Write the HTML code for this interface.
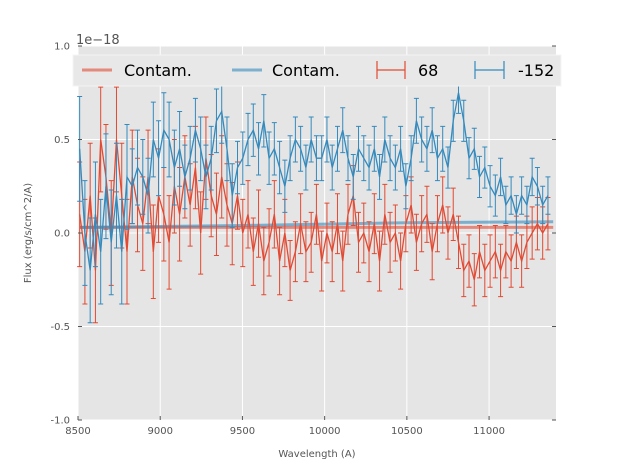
<!DOCTYPE html>
<html><head><meta charset="utf-8"><style>
body{margin:0;background:#fff;font-family:"Liberation Sans","DejaVu Sans",sans-serif}
svg text{font-family:"DejaVu Sans","Liberation Sans",sans-serif}
</style></head><body>
<svg id="chart" width="617" height="467" xmlns="http://www.w3.org/2000/svg">
<rect x="78" y="46" width="478" height="374" fill="#e5e5e5"/>
<g id="grid"></g><g id="marks"></g><g id="axes"></g>
<text x="76" y="44" font-size="13" fill="#555">1e−18</text>
<text x="317" y="457" font-size="10" fill="#555" text-anchor="middle">Wavelength (A)</text>
<text transform="translate(31,233) rotate(-90)" font-size="10" fill="#555" text-anchor="middle">Flux (erg/s/cm^2/A)</text>
<g>
<rect x="73" y="55" width="488" height="31" fill="#e8e8e8" stroke="#f4f4f4"/>
<line x1="82" y1="70" x2="112" y2="70" stroke="#E24A33" stroke-opacity="0.6" stroke-width="3"/>
<text x="124" y="76" font-size="16" fill="#000">Contam.</text>
<line x1="232" y1="70" x2="262" y2="70" stroke="#348ABD" stroke-opacity="0.6" stroke-width="3"/>
<text x="272" y="76" font-size="16" fill="#000">Contam.</text>
<path d="M377 70H405M377 61V79M405 61V79" stroke="#E24A33" stroke-width="1.2" fill="none"/>
<text x="418" y="76" font-size="16" fill="#000">68</text>
<path d="M475 70H504M475 61V79M504 61V79" stroke="#348ABD" stroke-width="1.2" fill="none"/>
<text x="518" y="76" font-size="16" fill="#000">-152</text>
</g>
</svg>
<script>
const xStart=8510, xStep=32;
const redVals=[0.1,-0.1,0.2,-0.2,0.5,0.3,0.0,0.5,0.2,-0.1,
0.3,0.15,0.05,0.3,-0.1,0.2,0.1,-0.05,0.25,0.1,
0.3,0.15,0.35,0.0,0.4,0.2,0.1,0.3,0.15,0.05,
0.2,0.0,0.1,-0.1,0.05,-0.15,-0.05,0.1,-0.15,0.0,
-0.2,-0.1,0.05,-0.1,-0.05,0.1,-0.15,0.0,-0.1,0.05,
-0.15,0.1,0.2,-0.05,0.0,-0.1,0.05,-0.15,0.1,-0.05,
0.0,-0.15,0.05,0.15,-0.05,0.05,0.1,-0.1,0.05,0.15,
0.0,0.1,-0.05,-0.2,-0.15,-0.25,-0.1,-0.2,-0.15,-0.1,
-0.2,-0.1,-0.15,-0.05,-0.15,-0.05,0.0,0.05,0.0,0.05];
const blueVals=[0.45,0.0,-0.2,0.1,-0.1,0.25,-0.05,0.2,-0.1,0.3,
0.25,0.35,0.3,0.2,0.5,0.4,0.55,0.5,0.35,0.45,
0.3,0.4,0.55,0.45,0.3,0.4,0.6,0.65,0.45,0.2,
0.35,0.4,0.5,0.55,0.45,0.6,0.4,0.45,0.35,0.25,
0.4,0.5,0.45,0.35,0.5,0.4,0.4,0.5,0.35,0.45,
0.55,0.4,0.3,0.45,0.4,0.35,0.45,0.3,0.5,0.4,
0.35,0.45,0.25,0.4,0.6,0.5,0.45,0.55,0.4,0.45,
0.35,0.6,0.75,0.6,0.4,0.45,0.3,0.35,0.25,0.2,
0.3,0.15,0.2,0.1,0.2,0.15,0.3,0.25,0.15,0.2];
const redErrBlocks=[0.28,0.25,0.22,0.18,0.16,0.16,0.15,0.14,0.14];
const blueErrBlocks=[0.28,0.2,0.17,0.14,0.12,0.12,0.12,0.11,0.1];
const contamRedX=[8510,11390], contamRedY=[0.03,0.03];
const contamBlueX=[8510,9500,10500,11390], contamBlueY=[0.03,0.04,0.055,0.06];
const xTicks=[8500,9000,9500,10000,10500,11000];
const yTicks=[-1.0,-0.5,0.0,0.5,1.0];
const NS="http://www.w3.org/2000/svg";
const X0=78,X1=556,Y0=420,Y1=46,xmin=8500,xmax=11407,ymin=-1,ymax=1;
const sx=v=>X0+(v-xmin)/(xmax-xmin)*(X1-X0);
const sy=v=>Y0-(v-ymin)/(ymax-ymin)*(Y0-Y1);
function mk(t,a,p){const e=document.createElementNS(NS,t);for(const k in a)e.setAttribute(k,a[k]);p.appendChild(e);return e;}
const grid=document.getElementById('grid'),marks=document.getElementById('marks'),axes=document.getElementById('axes');
xTicks.forEach(t=>{const g=mk('line',{x1:sx(t),x2:sx(t),y1:Y1,y2:Y0,stroke:'#fff','stroke-width':1},grid);

const l=mk('text',{x:sx(t),y:Y0+14,'font-size':10,fill:'#555','text-anchor':'middle'},axes);l.textContent=t;

mk('line',{x1:sx(t),x2:sx(t),y1:Y0,y2:Y0-4,stroke:'#555'},axes);});
yTicks.forEach(t=>{const g=mk('line',{x1:X0,x2:X1,y1:sy(t),y2:sy(t),stroke:'#fff','stroke-width':1},grid);

const l=mk('text',{x:X0-8,y:sy(t)+3.5,'font-size':10,fill:'#555','text-anchor':'end'},axes);l.textContent=t.toFixed(1);

mk('line',{x1:X0,x2:X0+4,y1:sy(t),y2:sy(t),stroke:'#555'},axes);mk('line',{x1:X1,x2:X1-4,y1:sy(t),y2:sy(t),stroke:'#555'},axes);});
function series(vals,errs,color,name){
const g=mk('g',{},marks);
let d='';vals.forEach((v,i)=>{const x=sx(xStart+i*xStep),e=errs[Math.floor(i/10)];
const t=sy(v+e),b=sy(v-e);d+=`M${x} ${t}V${b}M${x-2.5} ${t}H${x+2.5}M${x-2.5} ${b}H${x+2.5}`;});
const eb=mk('path',{d:d,stroke:color,'stroke-width':1,fill:'none'},g);

const p=mk('polyline',{points:vals.map((v,i)=>sx(xStart+i*xStep)+','+sy(v)).join(' '),stroke:color,'stroke-width':1.3,fill:'none'},g);
}
function contam(xs,ys,color,name){const p=mk('polyline',{points:xs.map((x,i)=>sx(x)+','+sy(ys[i])).join(' '),stroke:color,'stroke-opacity':0.6,'stroke-width':3,fill:'none'},marks);
}
contam(contamRedX,contamRedY,'#E24A33','contam-red-line');
contam(contamBlueX,contamBlueY,'#348ABD','contam-blue-line');
series(redVals,redErrBlocks,'#E24A33','series-68');
series(blueVals,blueErrBlocks,'#348ABD','series-minus152');
</script>
</body></html>
